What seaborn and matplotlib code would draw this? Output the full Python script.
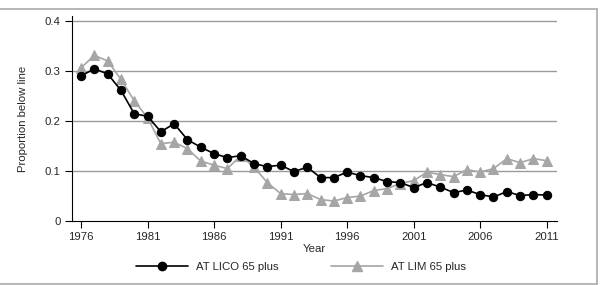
import numpy as np
import pandas as pd
import matplotlib
matplotlib.use("Agg")
import matplotlib.pyplot as plt
from matplotlib.lines import Line2D
import seaborn as sns

years = list(range(1976, 2012))
lico = [0.291, 0.305, 0.295, 0.262, 0.215, 0.210, 0.179, 0.195, 0.163, 0.148,
        0.135, 0.127, 0.131, 0.115, 0.109, 0.112, 0.099, 0.108, 0.087, 0.087,
        0.098, 0.091, 0.087, 0.079, 0.077, 0.067, 0.077, 0.068, 0.057, 0.062,
        0.053, 0.048, 0.059, 0.051, 0.053, 0.052]
lim = [0.307, 0.332, 0.321, 0.284, 0.241, 0.207, 0.155, 0.158, 0.145, 0.120,
       0.112, 0.105, 0.131, 0.108, 0.077, 0.055, 0.053, 0.055, 0.043, 0.040,
       0.047, 0.050, 0.061, 0.065, 0.075, 0.081, 0.098, 0.093, 0.089, 0.103,
       0.098, 0.105, 0.125, 0.117, 0.125, 0.121]
series_names = ["AT LICO 65 plus", "AT LIM 65 plus"]
xticks = [1976, 1981, 1986, 1991, 1996, 2001, 2006, 2011]
yticks = [0, 0.1, 0.2, 0.3, 0.4]
ytick_labels = ["0", "0.1", "0.2", "0.3", "0.4"]

sns.set_style("white")
plt.rcParams['font.family'] = ['Liberation Sans', 'DejaVu Sans']
FS = 8.2

fig = plt.figure(figsize=(6.02, 2.85), dpi=100)
W, H = 602, 285
ax = fig.add_axes([71.7 / W, 1 - 221 / H, (556.7 - 71.7) / W, (221 - 16) / H])

df1 = pd.DataFrame({"Year": years, "val": lico})
df2 = pd.DataFrame({"Year": years, "val": lim})
sns.lineplot(data=df2, x="Year", y="val", ax=ax, color="#a6a6a6", marker="^",
             markersize=6.5, markeredgecolor="#a6a6a6", linewidth=1.2, zorder=3)
sns.lineplot(data=df1, x="Year", y="val", ax=ax, color="black", marker="o",
             markersize=6, markeredgecolor="black", linewidth=1.2, zorder=4)

ax.set_xlim(1975.3, 2011.75)
ax.set_ylim(0, 0.411)
ax.set_xticks(xticks)
ax.set_xticklabels([str(t) for t in xticks])
ax.set_yticks(yticks)
ax.set_yticklabels(ytick_labels)
for y in yticks[1:]:
    ax.axhline(y, color="#9a9a9a", linewidth=1.0, zorder=1)
ax.tick_params(axis="both", direction="out", length=5, width=0.8, color="black",
               labelsize=FS, pad=3, bottom=True, left=True)
for s in ["top", "right"]:
    ax.spines[s].set_visible(False)
for s in ["left", "bottom"]:
    ax.spines[s].set_color("black")
    ax.spines[s].set_linewidth(0.8)
ax.set_xlabel("Year", fontsize=FS, labelpad=1)
ax.set_ylabel("Proportion below line", fontsize=FS, labelpad=12)

handles = [Line2D([], [], color="black", marker="o", markersize=6, linewidth=1.2),
           Line2D([], [], color="#a6a6a6", marker="^", markersize=6.5, linewidth=1.2)]
fig.legend(handles, series_names, loc="center", bbox_to_anchor=(0.5, 1 - 267 / H),
           ncol=2, frameon=False, fontsize=FS, handlelength=4.6, columnspacing=4.6,
           handletextpad=0.7)

# outer frame
fc = "#aaaaaa"
fig.add_artist(Line2D([0, 596.7 / W], [1 - 8.5 / H, 1 - 8.5 / H], color=fc, lw=1.2,
                      transform=fig.transFigure))
fig.add_artist(Line2D([596.7 / W, 596.7 / W], [1 - 8.5 / H, 1 - 283.5 / H], color=fc,
                      lw=1.2, transform=fig.transFigure))
fig.add_artist(Line2D([0, 596.7 / W], [1 - 283.5 / H, 1 - 283.5 / H], color=fc, lw=1.2,
                      transform=fig.transFigure))

fig.savefig("out.png", dpi=100)
